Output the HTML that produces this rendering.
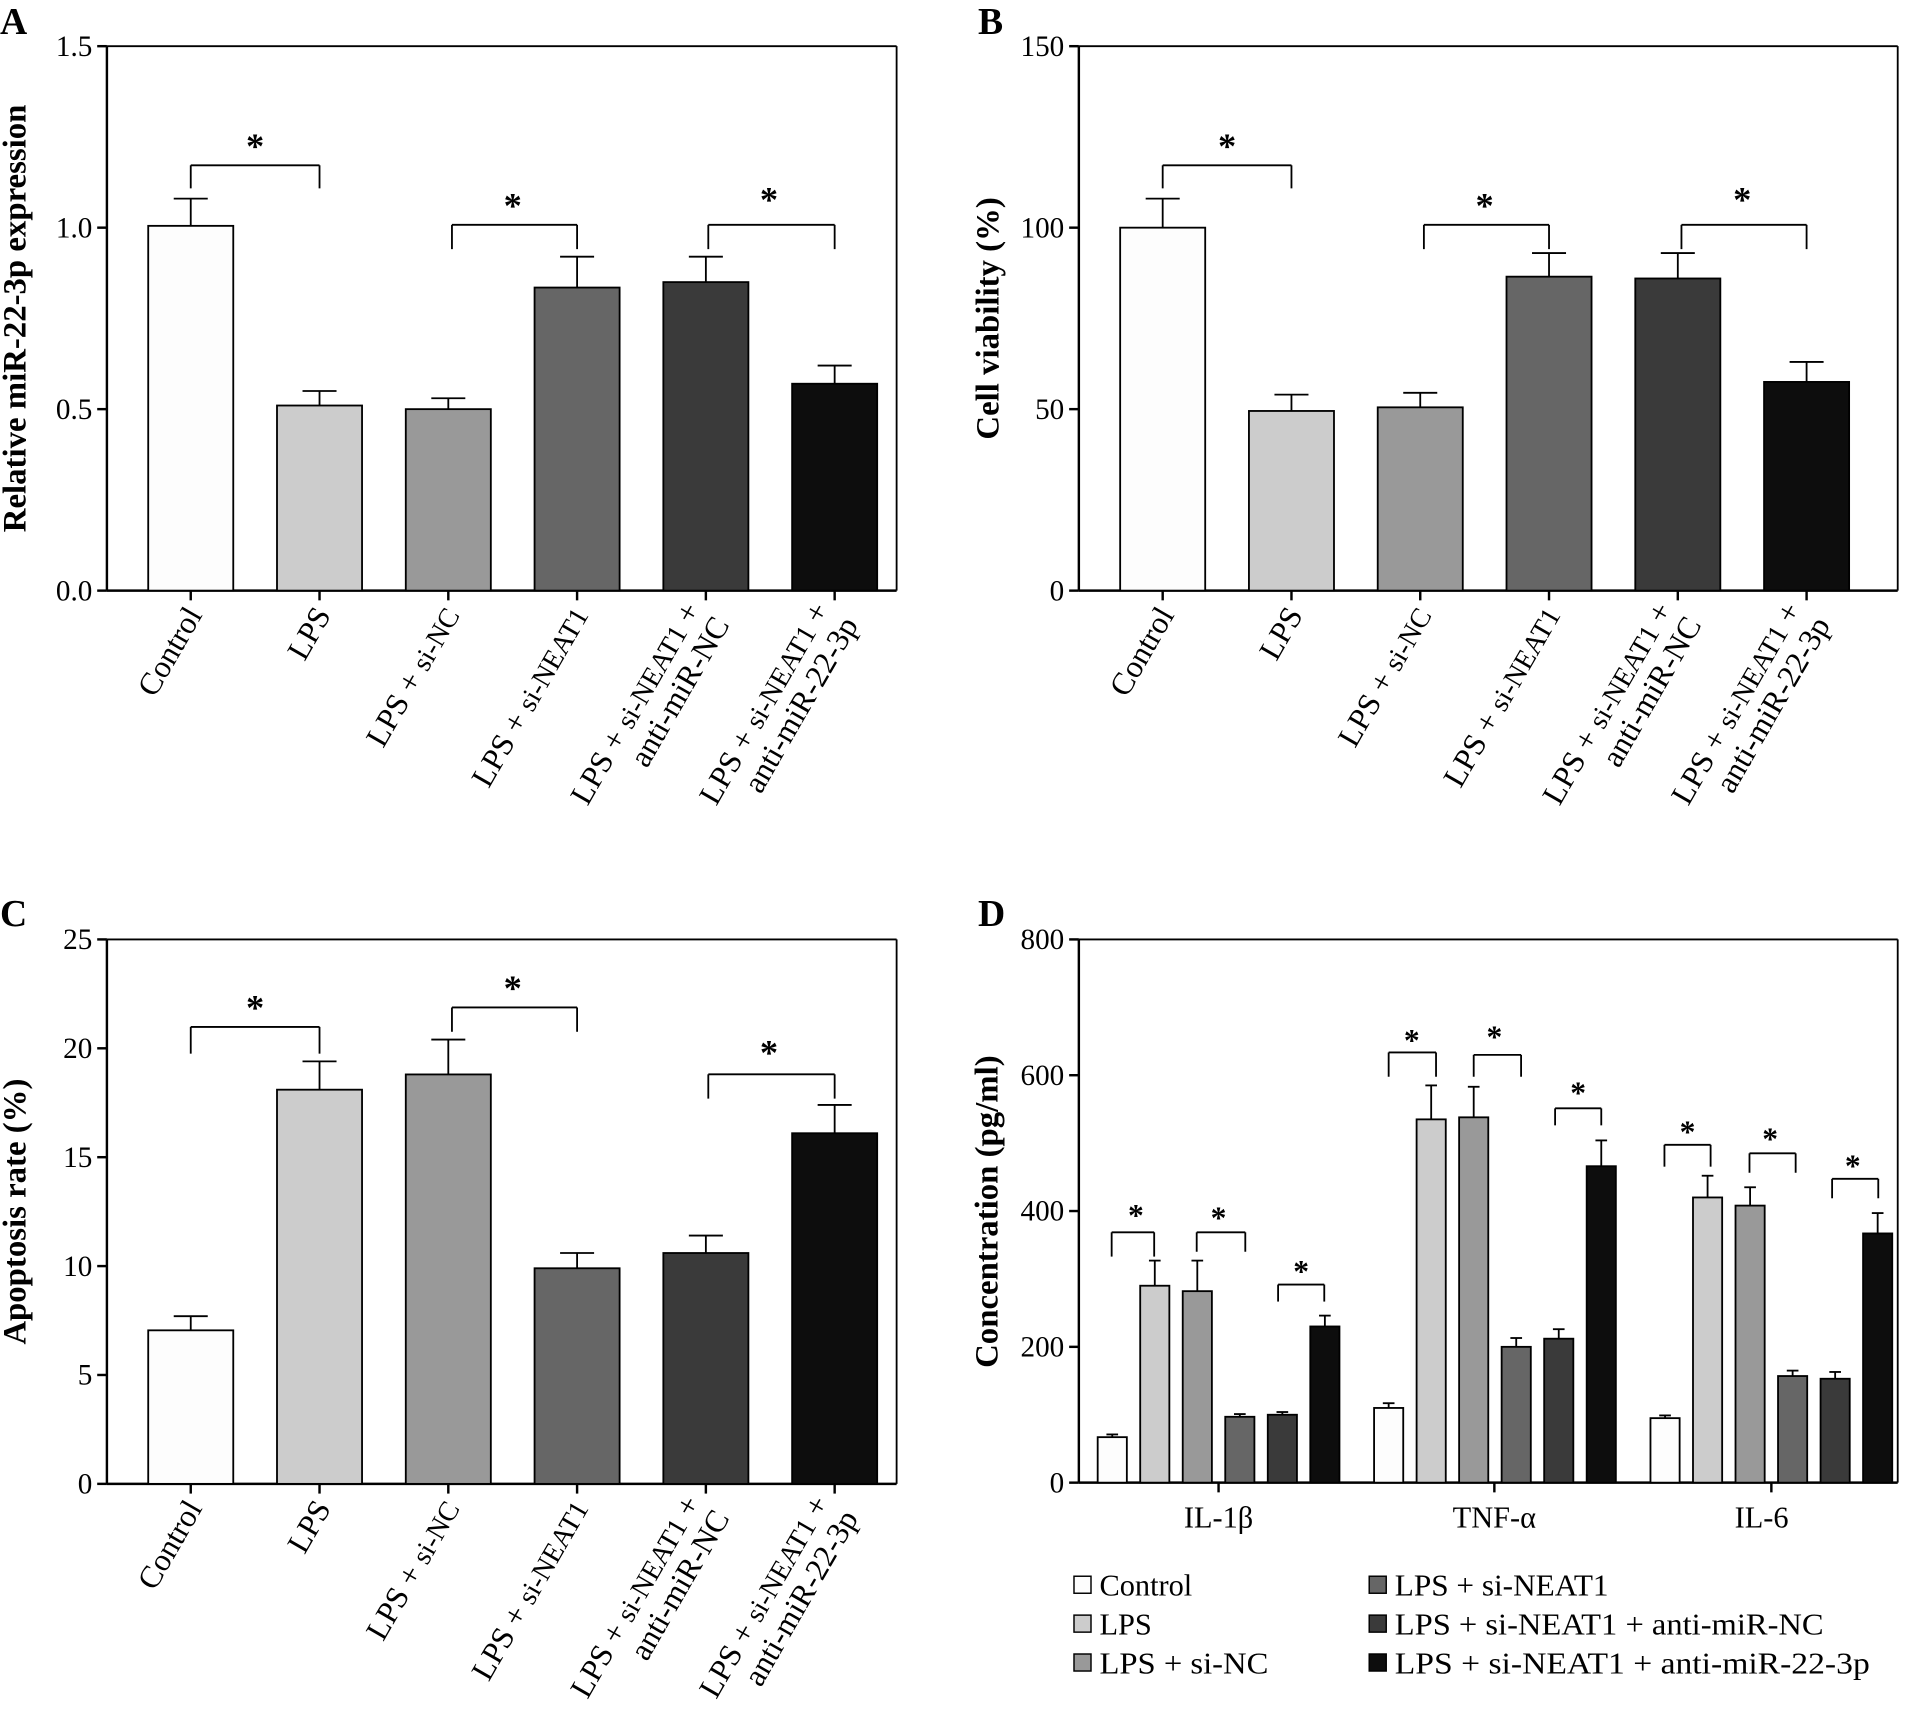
<!DOCTYPE html>
<html><head><meta charset="utf-8"><style>
html,body{margin:0;padding:0;background:#fff}
svg{display:block}
text{font-family:"Liberation Serif","DejaVu Serif",serif;fill:#000}
</style></head><body>
<svg id="s" width="1905" height="1733" viewBox="0 0 1568 1426" preserveAspectRatio="none" xmlns="http://www.w3.org/2000/svg"></svg>
<script>
const S=document.getElementById('s');let h='';
const cols=['#fdfdfd','#cccccc','#999999','#666666','#3a3a3a','#0d0d0d'];
function ln(a,b,c,d,w){h+=`<line x1="${a}" y1="${b}" x2="${c}" y2="${d}" stroke="#000" stroke-width="${w||1.5}"/>`;}
function tx(x,y,t,o){h+=`<text x="${x}" y="${y}" ${o||''}>${t}</text>`;}
function axis(x0,top,bot,right,ticks,labels){
 ln(x0,top,x0,bot,2);ln(x0,top,right,top,1.5);ln(right,top,right,bot,1.5);ln(x0,bot,right,bot,2);
 ticks.forEach((v,i)=>{const y=bot-(bot-top)*i/(ticks.length-1);ln(x0-8,y,x0,y,2);tx(x0-12,y+8,labels[i],'font-size="24" text-anchor="end"');});
}
function bar(cx,w,top,bot,max,v,e,c){
 const sc=(bot-top)/max;const y=bot-v*sc,ye=bot-e*sc;
 ln(cx,ye,cx,y,1.5);ln(cx-w*0.2,ye,cx+w*0.2,ye,1.5);
 h+=`<rect x="${cx-w/2}" y="${y}" width="${w}" height="${bot-y}" fill="${c}" stroke="#000" stroke-width="1.5"/>`;
}
function br(x1,x2,y,d,sx,sy,fs){ln(x1,y+d,x1,y);ln(x1,y,x2,y);ln(x2,y,x2,y+d);tx(sx,sy,'*',`font-size="${fs||30}" font-weight="bold" text-anchor="middle"`);}
const names=[['Control'],['LPS'],['LPS + <tspan font-size="23">si-NC</tspan>'],['LPS + <tspan font-size="23">si-NEAT1</tspan>'],['LPS + <tspan font-size="23">si-NEAT1</tspan> +','anti-miR-NC'],['LPS + <tspan font-size="23">si-NEAT1</tspan> +','anti-miR-22-3p']];
function xlabels(cx0,bot){
 for(let i=0;i<6;i++){const cx=cx0+106*i;ln(cx,bot,cx,bot+8,2);
  const n=names[i];
  if(n.length==1)tx(0,0,n[0],`font-size="26" text-anchor="end" transform="translate(${cx+10},${bot+20}) rotate(-60)"`);
  else{tx(0,0,n[0],`font-size="26" text-anchor="end" transform="translate(${cx-4},${bot+16}) rotate(-60)"`);
   tx(0,0,n[1],`font-size="26" text-anchor="end" transform="translate(${cx+20},${bot+28}) rotate(-60)"`);}
 }
}
axis(88,38,486,738,[0,1,2,3],['0.0','0.5','1.0','1.5']);
[[1.005,1.08],[0.51,0.55],[0.50,0.53],[0.835,0.92],[0.85,0.92],[0.57,0.62]].forEach((d,i)=>bar(157+106*i,70,38,486,1.5,d[0],d[1],cols[i]));
xlabels(157,486);
br(157,263,136,19,210,130);br(372,475,185,20,422,179);br(583,687,185,20,633,174);
tx(0,0,'Relative miR-22-3p expression','font-size="27" font-weight="bold" text-anchor="middle" transform="translate(21,262) rotate(-90)"');
tx(0,28,'A','font-size="31" font-weight="bold"');
axis(888,38,486,1562,[0,1,2,3],['0','50','100','150']);
[[100,108],[49.5,54],[50.5,54.5],[86.5,93],[86,93],[57.5,63]].forEach((d,i)=>bar(957+106*i,70,38,486,150,d[0],d[1],cols[i]));
xlabels(957,486);
br(957,1063,136,19,1010,130);br(1172,1275,185,20,1222,179);br(1384,1487,185,20,1434,174);
tx(0,0,'Cell viability (%)','font-size="27" font-weight="bold" text-anchor="middle" transform="translate(822,262) rotate(-90)"');
tx(805,28,'B','font-size="31" font-weight="bold"');
axis(88,773,1221,738,[0,1,2,3,4,5],['0','5','10','15','20','25']);
[[7.05,7.7],[18.1,19.4],[18.8,20.4],[9.9,10.6],[10.6,11.4],[16.1,17.4]].forEach((d,i)=>bar(157+106*i,70,773,1221,25,d[0],d[1],cols[i]));
xlabels(157,1221);
br(157,263,845,22,210,839);br(372,475,829,20,422,823);br(583,687,884,20,633,876);
tx(0,0,'Apoptosis rate (%)','font-size="27" font-weight="bold" text-anchor="middle" transform="translate(21,997) rotate(-90)"');
tx(0,762,'C','font-size="31" font-weight="bold"');
axis(888,773,1220,1562,[0,1,2,3,4],['0','200','400','600','800']);
const D=[[[67,71],[290,327],[282,327],[97,101],[100,104],[230,246]],[[110,117],[535,585],[538,583],[200,213],[212,226],[466,504]],[[95,99],[420,452],[408,435],[157,165],[153,163],[367,397]]];
const g0=[915.5,1143,1370.5];
D.forEach((g,j)=>g.forEach((d,i)=>bar(g0[j]+35*i,24,773,1220,800,d[0],d[1],cols[i])));
[1003,1230,1458].forEach(x=>ln(x,1220,x,1228,2));
tx(1003,1257,'IL-1β','font-size="25" text-anchor="middle"');tx(1230,1257,'TNF-α','font-size="25" text-anchor="middle"');tx(1450,1257,'IL-6','font-size="25" text-anchor="middle"');
br(915,950,1014,20,935,1009,26);br(985,1025,1014,16,1003,1011,26);br(1052,1090,1057,14,1071,1055,26);
br(1143,1182,866,20,1162,865,26);br(1213,1252,868,18,1230,862,26);br(1280,1318,912,14,1299,908,26);
br(1370,1408,942,18,1389,940,26);br(1440,1478,949,16,1457,946,26);br(1508,1546,970,16,1525,968,26);
tx(0,0,'Concentration (pg/ml)','font-size="27" font-weight="bold" text-anchor="middle" transform="translate(821,997) rotate(-90)"');
tx(805,762,'D','font-size="31" font-weight="bold"');
const L=[[884,1297,'Control'],[884,1329,'LPS'],[884,1361,'LPS + si-NC'],[1127,1297,'LPS + si-NEAT1'],[1127,1329,'LPS + si-NEAT1 + anti-miR-NC'],[1127,1361,'LPS + si-NEAT1 + anti-miR-22-3p']];
L.forEach((l,i)=>{h+=`<rect x="${l[0]}" y="${l[1]}" width="14" height="14" fill="${cols[i]}" stroke="#000" stroke-width="1.2"/>`;
 const adj=l[2].length>8?' textLength="'+(l[2].length*12.6).toFixed(0)+'" lengthAdjust="spacingAndGlyphs"':'';
 tx(l[0]+21,l[1]+16,l[2],'font-size="25"'+adj);});
S.innerHTML=h;
</script>
</body></html>
